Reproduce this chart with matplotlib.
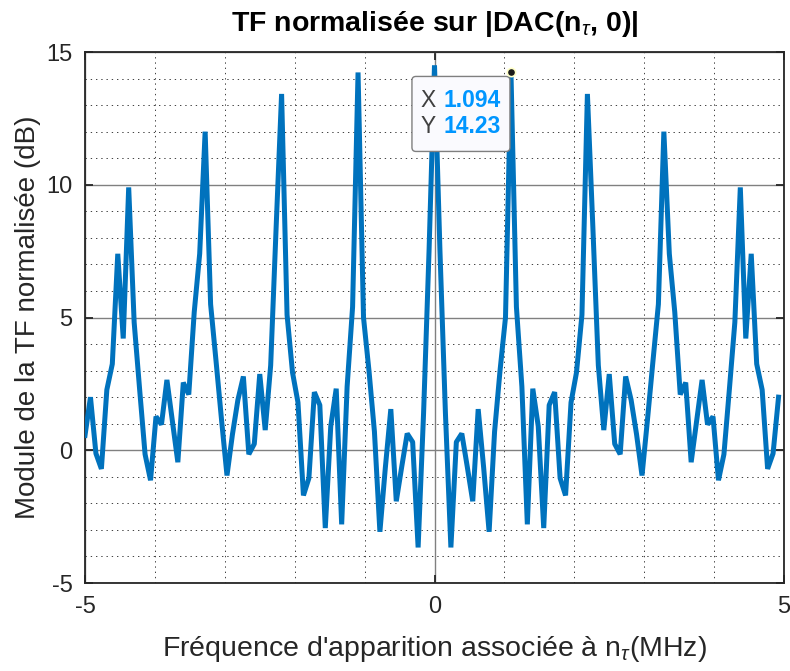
import numpy as np
import matplotlib.pyplot as plt
from matplotlib.patches import FancyBboxPatch
from matplotlib.ticker import MultipleLocator
from matplotlib.transforms import ScaledTranslation

plt.rcParams['font.family'] = ['Liberation Sans', 'DejaVu Sans']
plt.rcParams['mathtext.fontset'] = 'custom'
plt.rcParams['mathtext.rm'] = 'Liberation Sans'
plt.rcParams['mathtext.it'] = 'Liberation Sans:italic'
plt.rcParams['mathtext.bf'] = 'Liberation Sans:bold'
plt.rcParams['axes.unicode_minus'] = False

# FFT grid: 128 bins over [-5, 5[ MHz
n_fft = 128
f_max = 5.0
freq = np.arange(-n_fft // 2, n_fft // 2) * (2 * f_max / n_fft)

# normalised TF modulus (dB)
tf_db = [
    0.56, 2.00, -0.12, -0.70, 2.28, 3.25, 7.40, 4.21,
    9.90, 4.82, 2.30, -0.15, -1.13, 1.27, 0.97, 2.65,
    1.10, -0.45, 2.55, 2.10, 5.20, 7.40, 12.00, 5.50,
    3.35, 1.15, -0.95, 0.60, 1.90, 2.78, -0.15, 0.24,
    2.87, 0.76, 3.20, 8.40, 13.42, 5.10, 2.93, 1.80,
    -1.70, -1.05, 2.19, 1.70, -2.93, 0.90, 2.32, -2.79,
    2.40, 5.40, 14.23, 5.00, 3.00, 0.70, -3.07, -0.65,
    1.55, -1.92, -0.62, 0.63, 0.31, -3.66, 1.40, 7.50,
    14.50, 7.50, 1.40, -3.66, 0.31, 0.63, -0.62, -1.92,
    1.55, -0.65, -3.07, 0.70, 3.00, 5.00, 14.23, 5.40,
    2.40, -2.79, 2.32, 0.90, -2.93, 1.70, 2.19, -1.05,
    -1.70, 1.80, 2.93, 5.10, 13.42, 8.40, 3.20, 0.76,
    2.87, 0.24, -0.15, 2.78, 1.90, 0.60, -0.95, 1.15,
    3.35, 5.50, 12.00, 7.40, 5.20, 2.10, 2.55, -0.45,
    1.10, 2.65, 0.97, 1.27, -1.13, -0.15, 2.30, 4.82,
    9.90, 4.21, 7.40, 3.25, 2.28, -0.70, -0.12, 2.00,
]

tip_idx = 78  # data tip on the first side lobe

fig = plt.figure(figsize=(7.9, 6.71), dpi=100)
ax = fig.add_axes([0.1076, 0.1311, 0.8848, 0.7914])

ax.plot(freq, tf_db, color='#0072BD', lw=3.6, solid_joinstyle='bevel', zorder=3)

ax.set_xlim(-5, 5)
ax.set_ylim(-5, 15)
ax.xaxis.set_major_locator(MultipleLocator(5))
ax.xaxis.set_minor_locator(MultipleLocator(1))
ax.yaxis.set_major_locator(MultipleLocator(5))
ax.yaxis.set_minor_locator(MultipleLocator(1))

ax.grid(which='major', color='#808080', lw=1.0, ls='-')
ax.grid(which='minor', color='#404040', lw=0.7, ls=(0, (1.4, 4)))
ax.set_axisbelow(True)

ax.tick_params(which='major', direction='in', top=True, right=True, length=6,
               width=1.3, color='#262626', labelsize=17, labelcolor='#262626', pad=9)
ax.tick_params(which='minor', length=0)
for sp in ax.spines.values():
    sp.set_color('#262626')
    sp.set_linewidth(1.3)

ax.set_title(r'TF normalisée sur |DAC(n$_{\tau}$, 0)|', fontweight='bold',
             fontsize=20.5, pad=15)
ax.set_xlabel(r"Fréquence d'apparition associée à n$_{\tau}$(MHz)", fontsize=20.5,
              color='#262626', labelpad=12)
ax.set_ylabel('Module de la TF normalisée (dB)', fontsize=20, color='#262626',
              labelpad=4)

# data tip, box placed in inches relative to the point
tip_x, tip_y = freq[tip_idx], tf_db[tip_idx]
tr = fig.dpi_scale_trans + ScaledTranslation(tip_x, tip_y, ax.transData)
box = FancyBboxPatch((-0.95, -0.75), 0.90, 0.67, boxstyle='round,pad=0.04',
                     transform=tr, fc='#fafafe', ec='#7f7f7f', lw=1.0,
                     zorder=5, clip_on=False)
ax.add_patch(box)
ax.text(-0.83, -0.28, 'X', transform=tr, ha='center', va='center',
        fontsize=16.5, color='#404040', zorder=6)
ax.text(-0.67, -0.28, f'{tip_x:.4g}', transform=tr, ha='left', va='center',
        fontsize=16.5, color='#0096FF', fontweight='bold', zorder=6)
ax.text(-0.83, -0.54, 'Y', transform=tr, ha='center', va='center',
        fontsize=16.5, color='#404040', zorder=6)
ax.text(-0.67, -0.54, f'{tip_y:.4g}', transform=tr, ha='left', va='center',
        fontsize=16.5, color='#0096FF', fontweight='bold', zorder=6)
ax.plot(tip_x, tip_y, 'o', ms=6, mfc='#1a1a1a', mec='#ffffc8', mew=1.2,
        zorder=7, clip_on=False)

fig.savefig('out.png', dpi=100)
